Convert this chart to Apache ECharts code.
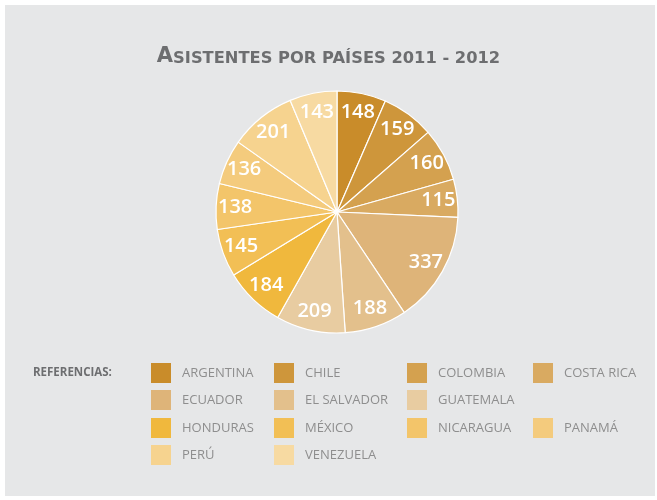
<!DOCTYPE html>
<html>
<head>
<meta charset="utf-8">
<script src="https://cdn.jsdelivr.net/npm/echarts@6/dist/echarts.min.js"></script>
<style>
  html,body{margin:0;padding:0;background:#fff;}
  #chart{width:657px;height:500px;}
</style>
</head>
<body>
<div id="chart"></div>
<script>
// datos: asistentes por país
var paises=['ARGENTINA','CHILE','COLOMBIA','COSTA RICA','ECUADOR','EL SALVADOR','GUATEMALA',
  'HONDURAS','MÉXICO','NICARAGUA','PANAMÁ','PERÚ','VENEZUELA'];
var asistentes=[148,159,160,115,337,188,209,184,145,138,136,201,143];
var colores=['#c98c2a','#ce963b','#d4a14f','#d9aa61','#deb479','#e3c08c','#e8cca1',
  '#f0b83d','#f2bf55','#f3c56a','#f4cb7d','#f6d38f','#f7daa2'];

// posicion de cada referencia en la grilla (fila, columna)
var celdas=[[0,0],[0,1],[0,2],[0,3],[1,0],[1,1],[1,2],[2,0],[2,1],[2,2],[2,3],[3,0],[3,1]];
var colX=[151,274,407,533];
var filaY=[363,390,418,445];

var chart=echarts.init(document.getElementById('chart'));

var datos=paises.map(function(p,i){
  return {name:p,value:asistentes[i],itemStyle:{color:colores[i]}};
});

var leyendas=paises.map(function(p,i){
  return {
    data:[p],
    left:colX[celdas[i][1]],
    top:filaY[celdas[i][0]],
    icon:'rect',
    itemWidth:20,
    itemHeight:20,
    selectedMode:false,
    padding:0,
    itemStyle:{borderWidth:0},
    textStyle:{color:'#8e8e8e',fontSize:13,fontFamily:'Open Sans',padding:[0,0,0,6]}
  };
});

var option={
  backgroundColor:'#fff',
  animation:false,
  graphic:[{
    type:'rect',
    shape:{x:5,y:5,width:650,height:491},
    style:{fill:'#e6e7e8'},
    z:-10
  },{
    type:'text',
    left:33,
    top:367,
    style:{text:'REFERENCIAS:',fill:'#6d6e70',font:'bold 11.5px "Open Sans"'}
  }],
  title:{
    text:'{a|A}{b|SISTENTES POR PAÍSES 2011 - 2012}',
    left:'center',
    top:41,
    textStyle:{
      rich:{
        a:{fontSize:21,fontWeight:'bold',color:'#6d6e70',fontFamily:'DejaVu Sans'},
        b:{fontSize:16.3,fontWeight:'bold',color:'#6d6e70',fontFamily:'DejaVu Sans',verticalAlign:'bottom'}
      }
    }
  },
  legend:leyendas,
  series:[{
    type:'pie',
    center:[337,212],
    radius:[0,121],
    startAngle:90,
    clockwise:true,
    silent:true,
    label:{show:false},
    labelLine:{show:false},
    itemStyle:{borderColor:'#ffffff',borderWidth:1.2},
    data:datos
  },{
    // capa transparente solo para ubicar las etiquetas cerca del borde
    type:'pie',
    center:[337,212],
    radius:[77,121],
    startAngle:90,
    clockwise:true,
    silent:true,
    label:{show:true,position:'inside',color:'#fff',fontSize:20,fontFamily:'Open Sans',fontWeight:600,formatter:'{c}'},
    labelLine:{show:false},
    itemStyle:{color:'rgba(0,0,0,0)',borderWidth:0},
    data:datos.map(function(d){return {name:d.name,value:d.value};})
  }]
};
chart.setOption(option);
</script>
</body>
</html>
